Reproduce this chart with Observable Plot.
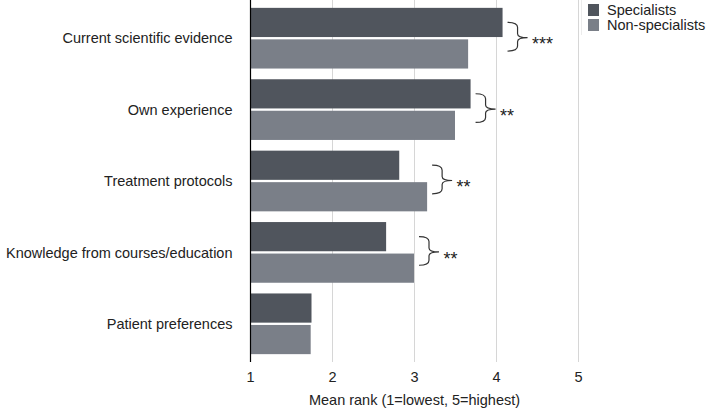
<!DOCTYPE html>
<html><head><meta charset="utf-8">
<script src="https://cdn.jsdelivr.net/npm/d3@7"></script>
<script src="https://cdn.jsdelivr.net/npm/@observablehq/plot@0.6"></script>
<style>
body{margin:0;background:#fff;font-family:"Liberation Sans",Arial,sans-serif;}
#wrap{position:relative;width:708px;height:412px;}
.legend{position:absolute;left:581px;top:0px;font-size:14.5px;color:#222;line-height:16px;border-left:1px solid #ececec;padding:2px 0 2px 6px;}
.legend .row{display:flex;align-items:center;height:15.5px;}
.legend .sw{width:11px;height:12px;margin-right:8px;}
</style></head><body><div id="wrap"></div>
<script>
const categories = ["Current scientific evidence","Own experience","Treatment protocols","Knowledge from courses/education","Patient preferences"];
const specialists = [4.08, 3.69, 2.82, 2.66, 1.75];
const nonSpecialists = [3.66, 3.50, 3.16, 3.00, 1.74];
const significance = ["***","**","**","**",""];
const groups = ["Specialists","Non-specialists"];
const colors = ["#50555d","#7a7f88"];
const xTicks = [1,2,3,4,5];
const axisLabel = "Mean rank (1=lowest, 5=highest)";

const specRows = categories.map((c,i)=>({cat:c, base:1, v:specialists[i]}));
const nonRows = categories.map((c,i)=>({cat:c, base:1, v:nonSpecialists[i]}));
const sigRows = categories.map((c,i)=>({cat:c, m:Math.max(specialists[i],nonSpecialists[i]), s:significance[i]})).filter(d=>d.s);

const barH = 29;
function braces(index, scales) {
  const x = scales.x, y = scales.y;
  const bw = y.bandwidth ? y.bandwidth() : 61;
  const g = d3.create("svg:g").attr("fill","none").attr("stroke","#333").attr("stroke-width",1.2);
  for (const d of sigRows) {
    const x0 = x(d.m) + 5, x1 = x0 + 10, x2 = x0 + 20;
    const top = y(d.cat);
    const y0 = top + barH/2, y1 = top + bw - barH/2 - 3, ym = (y0+y1)/2 + 1;
    g.append("path").attr("d",
      `M${x0},${y0} Q${x1},${y0} ${x1},${y0+5} L${x1},${ym-4} Q${x1},${ym} ${x2},${ym} Q${x1},${ym} ${x1},${ym+4} L${x1},${y1-5} Q${x1},${y1} ${x0},${y1}`);
  }
  return g.node();
}

const chart = Plot.plot({
  width: 708, height: 412,
  marginLeft: 250, marginRight: 130, marginTop: 0, marginBottom: 50,
  style: {fontFamily: "'Liberation Sans', Arial, sans-serif", fontSize: "14.5px", color: "#222", background: "#fff"},
  x: {domain: [1,5], ticks: xTicks, tickFormat: d3.format("d"), tickSize: 0, tickPadding: 9, label: null},
  y: {domain: categories, round: false, paddingInner: 0.15, paddingOuter: 0.11, tickSize: 0, tickPadding: 18, label: null},
  marks: [
    Plot.ruleX(xTicks.slice(1), {stroke: "#d6d6d6", strokeWidth: 1}),
    Plot.barX(specRows, {y: "cat", x1: "base", x2: "v", fill: colors[0], insetBottom: 31.5}),
    Plot.barX(nonRows, {y: "cat", x1: "base", x2: "v", fill: colors[1], insetTop: 31.5}),
    Plot.ruleX([xTicks[0]], {stroke: "#000", strokeWidth: 1.2}),
    braces,
    Plot.text(sigRows, {x: "m", y: "cat", text: "s", dx: 29, dy: 6, textAnchor: "start", fontSize: 18, fill: "#222"}),
    Plot.text([axisLabel], {frameAnchor: "bottom", dy: 42, fontSize: 14.5, fill: "#222"})
  ]
});
const wrap = document.getElementById("wrap");
wrap.appendChild(chart);
const leg = document.createElement("div");
leg.className = "legend";
groups.forEach((g,i)=>{
  const r = document.createElement("div"); r.className = "row";
  const s = document.createElement("div"); s.className = "sw"; s.style.background = colors[i];
  const t = document.createElement("span"); t.textContent = g;
  r.appendChild(s); r.appendChild(t); leg.appendChild(r);
});
wrap.appendChild(leg);
</script></body></html>
